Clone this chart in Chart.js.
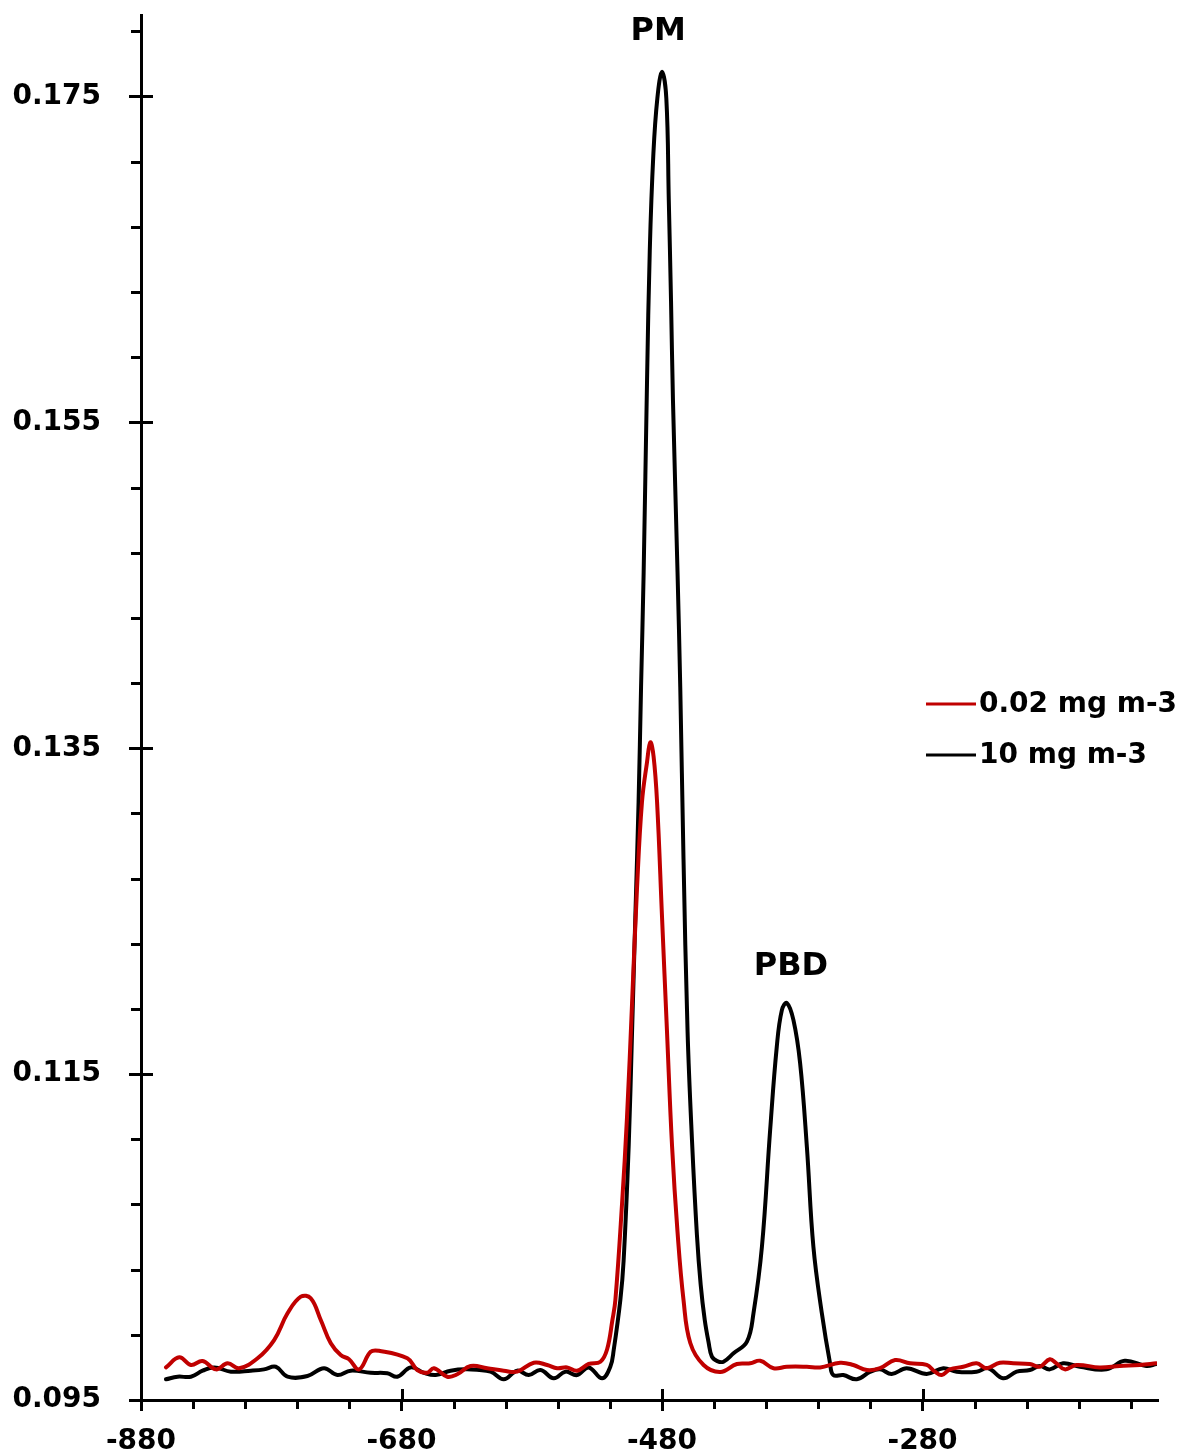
<!DOCTYPE html>
<html>
<head>
<meta charset="utf-8">
<script src="https://cdn.jsdelivr.net/npm/chart.js@4.4.1/dist/chart.umd.min.js"></script>
<style>
  html, body { margin: 0; padding: 0; background: #ffffff; }
  #wrap { width: 1187px; height: 1454px; }
</style>
</head>
<body>
<div id="wrap"><canvas id="c" width="1187" height="1454"></canvas></div>
<script>
// Series names
const seriesLabels = ['0.02 mg m-3', '10 mg m-3'];

// 0.02 mg m-3 trace
const lowX = [-860.8, -850.6, -841.7, -832.7, -822.5, -813.5, -804.6, -790.5, -777.8, -767.5,
  -757.3, -749.7, -742, -734.3, -726.7, -720.3, -712.6, -703.7, -697.3, -675.5,
  -667.9, -660.2, -655.1, -644.9, -637.2, -627, -614.2, -601.5, -591.2, -578.5,
  -568.2, -560.5, -552.9, -545.2, -536.3, -527.3, -522.2, -518.1, -515.8, -510.7,
  -506.9, -503, -499.2, -495.4, -491.5, -489, -486.5, -483.8, -480, -476.2,
  -472.3, -468.1, -463.5, -458.3, -448.1, -435.3, -422.5, -412.3, -404.6, -394.4,
  -384.2, -368.8, -358.6, -343.3, -333.1, -322.8, -312.6, -301.1, -289.6, -276.8,
  -270.5, -265.3, -259, -248.8, -238.5, -230.8, -220.6, -210.4, -197.6, -190,
  -182.3, -177.2, -170.8, -161.8, -144, -128.6, -113.3, -100.5];
const lowY = [0.0970, 0.09762, 0.09715, 0.09739, 0.09688, 0.09725, 0.09695, 0.09756, 0.09868, 0.10032,
  0.10134, 0.10124, 0.09991, 0.09848, 0.09776, 0.0975, 0.09688, 0.09796, 0.09802, 0.09756,
  0.09684, 0.09667, 0.09695, 0.09643, 0.09658, 0.09709, 0.09695, 0.0968, 0.09674, 0.09729,
  0.09715, 0.09695, 0.0970, 0.0968, 0.09721, 0.09735, 0.0981, 0.0999, 0.10114, 0.10704,
  0.11233, 0.11936, 0.12641, 0.13169, 0.13416, 0.13537, 0.13451, 0.13169, 0.12463, 0.11764,
  0.11058, 0.10531, 0.10114, 0.0985, 0.09715, 0.09672, 0.09721, 0.09725, 0.09741, 0.09695,
  0.09704, 0.09704, 0.0970, 0.09729, 0.09715, 0.09684, 0.09695, 0.09745, 0.09725, 0.09715,
  0.09674, 0.09653, 0.09688, 0.09704, 0.09725, 0.09695, 0.09729, 0.09725, 0.09721, 0.09704,
  0.0975, 0.09725, 0.09688, 0.09715, 0.0970, 0.09709, 0.09715, 0.09725];

// 10 mg m-3 trace
const highX = [-860.8, -851.9, -841.7, -832.7, -823.8, -811, -795.7, -785.5, -776.5, -767.5,
  -752.2, -739.5, -729.2, -719, -703.7, -690.9, -683.2, -673, -662.8, -653.8,
  -642.3, -629.5, -611.7, -601.5, -591.2, -582.3, -573.3, -563.1, -554.2, -545.2,
  -536.3, -526, -519.7, -517.1, -512, -509.5, -505.6, -503, -500.5, -498,
  -496.1, -494.1, -491.5, -489.4, -486.7, -483.6, -480, -476.7, -474.8, -473.1,
  -471.6, -468.1, -466, -463.5, -460.4, -457, -453.2, -450.3, -447.2, -444.3,
  -441.7, -437.6, -432.8, -425.1, -414.8, -409.8, -403.3, -397, -391.9, -388,
  -384.2, -379.1, -374, -368.8, -363.8, -357.3, -351, -348.5, -340.8, -330.5,
  -320, -312.6, -303.7, -292.2, -276.8, -264.1, -253.8, -238.5, -229.6, -218.1,
  -207.8, -197.6, -190, -182.3, -172.1, -159.3, -138.8, -124.8, -108.2, -100.5];
const highY = [0.09627, 0.09643, 0.09643, 0.0968, 0.0970, 0.09674, 0.0968, 0.09688, 0.09704, 0.09643,
  0.09647, 0.09695, 0.09653, 0.0968, 0.09667, 0.09664, 0.09643, 0.0970, 0.09667, 0.09653,
  0.0968, 0.09688, 0.09674, 0.09627, 0.0968, 0.09653, 0.09684, 0.09633, 0.09674, 0.09653,
  0.0970, 0.09633, 0.09704, 0.09807, 0.10114, 0.10353, 0.11058, 0.11764, 0.12463, 0.13169,
  0.13874, 0.1458, 0.15758, 0.16555, 0.17138, 0.17488, 0.17652, 0.17488, 0.16862, 0.16249,
  0.15635, 0.1458, 0.13874, 0.12819, 0.11764, 0.11095, 0.10512, 0.10206, 0.09991, 0.09856,
  0.09766, 0.09739, 0.09735, 0.09787, 0.09858, 0.10032, 0.10441, 0.11156, 0.11668, 0.11893,
  0.11937, 0.11831, 0.11568, 0.11054, 0.10441, 0.10032, 0.09725, 0.09653, 0.09653, 0.09627,
  0.09674, 0.09688, 0.0966, 0.09695, 0.0966, 0.09695, 0.09674, 0.09674, 0.09695, 0.09633,
  0.09674, 0.09684, 0.09709, 0.09688, 0.09725, 0.09704, 0.09688, 0.09741, 0.09709, 0.09721];

// Axis ticks
const xMajorTicks = [-880, -680, -480, -280];
const yMajorTicks = [0.095, 0.115, 0.135, 0.155, 0.175];
const xMinorStep = 40;
const yMinorStep = 0.004;

// Peak names
const peakLabels = ['PM', 'PBD'];
const peakLabelX = [-483, -381];
const peakLabelY = [0.179, 0.1216];

const FONT = '"DejaVu Sans", sans-serif';
const colors = ['#c00000', '#000000'];

function pairs(xs, ys) { return xs.map((x, i) => ({ x: x, y: ys[i] })); }

// Minor tick marks plus the inner half of each major tick
const tickMarks = {
  id: 'tickMarks',
  afterDraw(chart) {
    const ctx = chart.ctx, xs = chart.scales.x, ys = chart.scales.y;
    const left = chart.chartArea.left, bottom = chart.chartArea.bottom;
    ctx.save();
    ctx.strokeStyle = '#000';
    ctx.lineWidth = 3;
    ctx.beginPath();
    for (let i = 0; ; i++) {
      const v = ys.min + i * yMinorStep;
      if (v > ys.max + 1e-9) break;
      const p = Math.round(ys.getPixelForValue(v)) + 0.5;
      if (i % 5 === 0) { ctx.moveTo(left, p); ctx.lineTo(left + 12, p); }
      else { ctx.moveTo(left - 10, p); ctx.lineTo(left, p); }
    }
    for (let i = 0; ; i++) {
      const v = xs.min + i * xMinorStep;
      if (v > xs.max + 1e-9) break;
      const p = Math.round(xs.getPixelForValue(v)) + 0.5;
      if (i % 5 === 0) { ctx.moveTo(p, bottom); ctx.lineTo(p, bottom - 11); }
      else { ctx.moveTo(p, bottom); ctx.lineTo(p, bottom + 9); }
    }
    ctx.stroke();
    ctx.restore();
  }
};

// Peak names and the series key
const annotations = {
  id: 'annotations',
  afterDraw(chart) {
    const ctx = chart.ctx, xs = chart.scales.x, ys = chart.scales.y;
    ctx.save();
    ctx.fillStyle = '#000';
    ctx.font = 'bold 32px ' + FONT;
    ctx.textAlign = 'center';
    ctx.textBaseline = 'middle';
    peakLabels.forEach((t, i) => {
      ctx.fillText(t, xs.getPixelForValue(peakLabelX[i]), ys.getPixelForValue(peakLabelY[i]));
    });
    // key
    ctx.font = 'bold 28px ' + FONT;
    ctx.textAlign = 'left';
    chart.data.datasets.forEach((ds, i) => {
      const y = 704 + i * 51;
      ctx.strokeStyle = ds.borderColor;
      ctx.lineWidth = 3;
      ctx.beginPath();
      ctx.moveTo(926, y);
      ctx.lineTo(976, y);
      ctx.stroke();
      ctx.fillStyle = '#000';
      ctx.fillText(ds.label, 979, y + 1);
    });
    ctx.restore();
  }
};

new Chart(document.getElementById('c'), {
  type: 'line',
  data: {
    datasets: [
      { label: seriesLabels[0], data: pairs(lowX, lowY), borderColor: colors[0] },
      { label: seriesLabels[1], data: pairs(highX, highY), borderColor: colors[1] }
    ]
  },
  options: {
    responsive: false,
    animation: false,
    devicePixelRatio: 1,
    elements: {
      line: { borderWidth: 4, tension: 0.4, fill: false, borderJoinStyle: 'round', borderCapStyle: 'round' },
      point: { radius: 0, hoverRadius: 0 }
    },
    layout: { padding: { top: 15, right: 30, left: 0, bottom: 0 } },
    plugins: { legend: { display: false }, tooltip: { enabled: false } },
    scales: {
      x: {
        type: 'linear',
        min: -880,
        max: -100,
        afterBuildTicks: s => { s.ticks = xMajorTicks.map(v => ({ value: v })); },
        afterFit: s => { s.height = 54; s.paddingLeft = 0; s.paddingRight = 0; },
        grid: { display: true, drawOnChartArea: false, drawTicks: true, tickLength: 11, color: '#000', lineWidth: 3 },
        border: { display: true, color: '#000', width: 3 },
        ticks: {
          color: '#000', padding: 14, maxRotation: 0, autoSkip: false,
          font: { family: FONT, weight: 'bold', size: 28 },
          callback: v => String(v)
        }
      },
      y: {
        type: 'linear',
        min: 0.095,
        max: 0.18,
        afterBuildTicks: s => { s.ticks = yMajorTicks.map(v => ({ value: v })); },
        afterFit: s => { s.width = 141; s.paddingTop = 0; s.paddingBottom = 0; },
        grid: { display: true, drawOnChartArea: false, drawTicks: true, tickLength: 12, color: '#000', lineWidth: 3 },
        border: { display: true, color: '#000', width: 3 },
        ticks: {
          color: '#000', padding: 28, autoSkip: false,
          font: { family: FONT, weight: 'bold', size: 28 },
          callback: v => v.toFixed(3)
        }
      }
    }
  },
  plugins: [tickMarks, annotations]
});
</script>
</body>
</html>
